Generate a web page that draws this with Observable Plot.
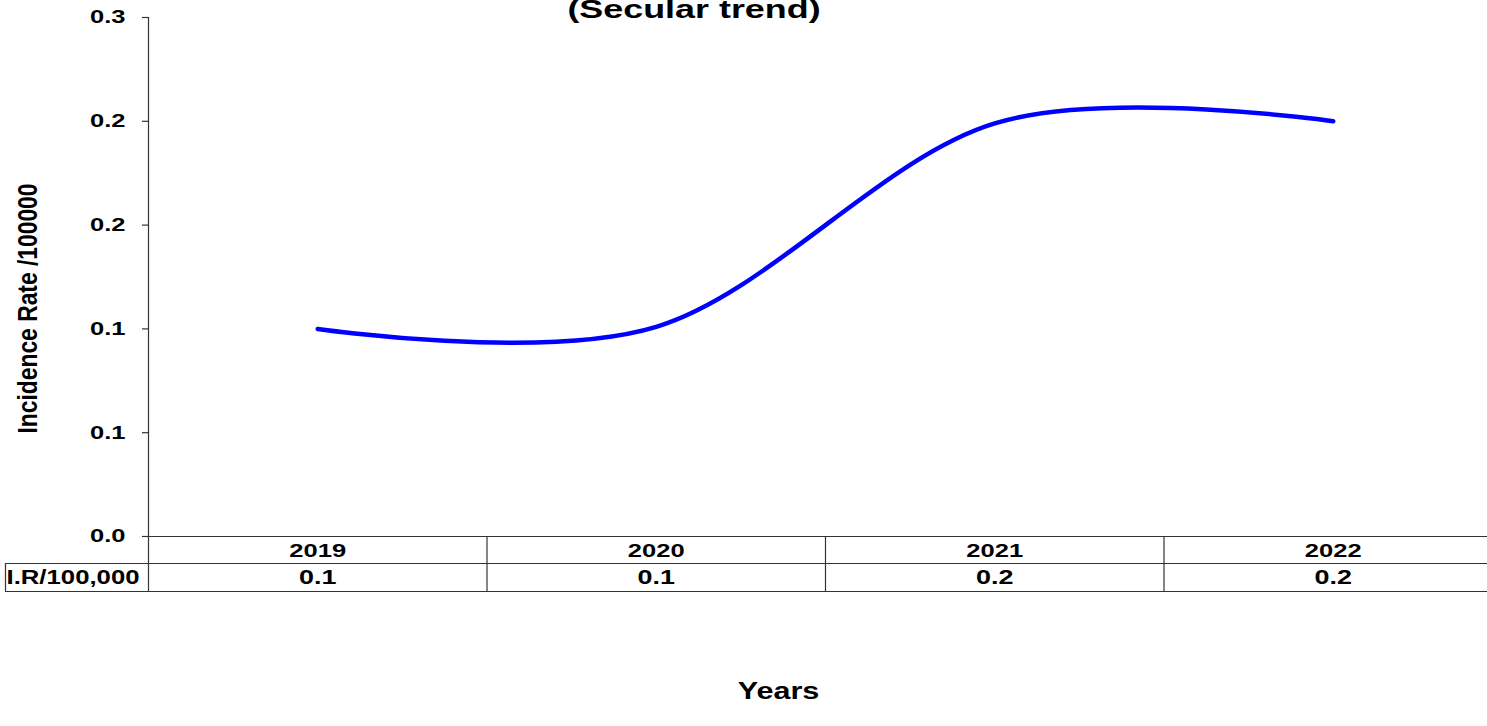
<!DOCTYPE html>
<html>
<head>
<meta charset="utf-8">
<script src="https://cdn.jsdelivr.net/npm/d3@7"></script>
<script src="https://cdn.jsdelivr.net/npm/@observablehq/plot@0.6"></script>
<style>
  html, body { margin: 0; padding: 0; background: #fff; overflow: hidden; }
  #chart svg { display: block; }
</style>
</head>
<body>
<div id="chart"></div>
<script>
// ---- data ----
const titleText = "(Secular trend)";
const yAxisTitle = "Incidence Rate /100000";
const xAxisTitle = "Years";
const rowLabel = "I.R/100,000";
const years = ["2019", "2020", "2021", "2022"];
const rates = [0.100, 0.101, 0.199, 0.200];
const rateLabels = ["0.1", "0.1", "0.2", "0.2"];
const yTickValues = [0, 0.05, 0.10, 0.15, 0.20, 0.25];
const yTickLabels = ["0.0", "0.1", "0.1", "0.2", "0.2", "0.3"];

const rows = years.map((year, i) => ({i, year, rate: rates[i], label: rateLabels[i]}));
const ticks = yTickValues.map((v, k) => ({v, label: yTickLabels[k]}));
const dividers = years.slice(1).map((_, k) => k + 0.5);

const FONT = "Liberation Sans, Arial, Helvetica, sans-serif";
const AX = "#333";

const chart = Plot.plot({
  width: 1487,
  height: 726,
  marginTop: 0, marginRight: 0, marginBottom: 0, marginLeft: 0,
  style: {background: "#fff", fontFamily: FONT},
  x: {type: "linear", domain: [-0.5, years.length - 0.5], range: [148, 1502], axis: null},
  y: {type: "linear", domain: [0, 0.25], range: [536, 17], axis: null},
  marks: [
    // y axis line (extends through the data table)
    Plot.ruleX([-0.5], {y1: 0.25, y2: 0, insetBottom: -55, stroke: AX, strokeWidth: 1.2}),
    // y ticks
    Plot.ruleY(ticks, {y: "v", x1: -0.5, x2: -0.5, insetLeft: -6, stroke: AX, strokeWidth: 1.2}),
    Plot.text(ticks, {y: "v", x: -0.5, text: "label", dx: -23, textAnchor: "end",
      fontSize: 18.5, fontWeight: "bold", fontFamily: FONT, fill: "#000"}),
    // table horizontal lines
    Plot.ruleY([0], {x1: -0.5, x2: years.length - 0.5, stroke: AX, strokeWidth: 1.2}),
    Plot.ruleY([0], {x1: -0.5, x2: years.length - 0.5, dy: 27, insetLeft: -143, stroke: AX, strokeWidth: 1.2}),
    Plot.ruleY([0], {x1: -0.5, x2: years.length - 0.5, dy: 55, insetLeft: -143, stroke: AX, strokeWidth: 1.2}),
    // table vertical dividers
    Plot.ruleX(dividers, {y1: 0, y2: 0, insetBottom: -55, stroke: AX, strokeWidth: 1.2}),
    Plot.ruleX([-0.5], {y1: 0, y2: 0, dx: -143, insetTop: 27, insetBottom: -55, stroke: AX, strokeWidth: 1.2}),
    // table text
    Plot.text(rows, {x: "i", y: 0, text: "year", dy: 14.5,
      fontSize: 18.5, fontWeight: "bold", fontFamily: FONT, fill: "#000"}),
    Plot.text(rows, {x: "i", y: 0, text: "label", dy: 41,
      fontSize: 19.5, fontWeight: "bold", fontFamily: FONT, fill: "#000"}),
    Plot.text([rowLabel], {x: -0.5, y: 0, text: d => d, dx: -75.5, dy: 41,
      fontSize: 19.5, fontWeight: "bold", fontFamily: FONT, fill: "#000"}),
    // series line
    Plot.line(rows, {x: "i", y: "rate", curve: "cardinal", stroke: "#0000ff", strokeWidth: 4.5,
      strokeLinecap: "round", strokeLinejoin: "round"}),
    // titles
    Plot.text([titleText], {frameAnchor: "top", text: d => d, lineAnchor: "bottom", textAnchor: "middle", dx: -50, dy: 17.5,
      fontSize: 26, fontWeight: "bold", fontFamily: FONT, fill: "#000"}),
    Plot.text([xAxisTitle], {frameAnchor: "bottom", text: d => d, lineAnchor: "bottom", textAnchor: "middle", dx: 34.5, dy: -28,
      fontSize: 23.5, fontWeight: "bold", fontFamily: FONT, fill: "#000"}),
    Plot.text([yAxisTitle], {frameAnchor: "left", text: d => d, rotate: -90, lineAnchor: "bottom", textAnchor: "middle", dx: 36, dy: -55,
      fontSize: 28, fontWeight: "bold", fontFamily: FONT, fill: "#000"})
  ]
});
document.getElementById("chart").appendChild(chart);

// The reference's lettering is stretched horizontally (and the rotated axis title is condensed).
chart.querySelectorAll("text").forEach(t => {
  const s = t.textContent;
  const L = t.getComputedTextLength();
  let target;
  if (s === yAxisTitle) target = 250;
  else if (s === xAxisTitle) target = L * 1.3;
  else if (s === rowLabel) target = 133;
  else target = L * 1.38;
  t.setAttribute("textLength", target);
  t.setAttribute("lengthAdjust", "spacingAndGlyphs");
});
</script>
</body>
</html>
